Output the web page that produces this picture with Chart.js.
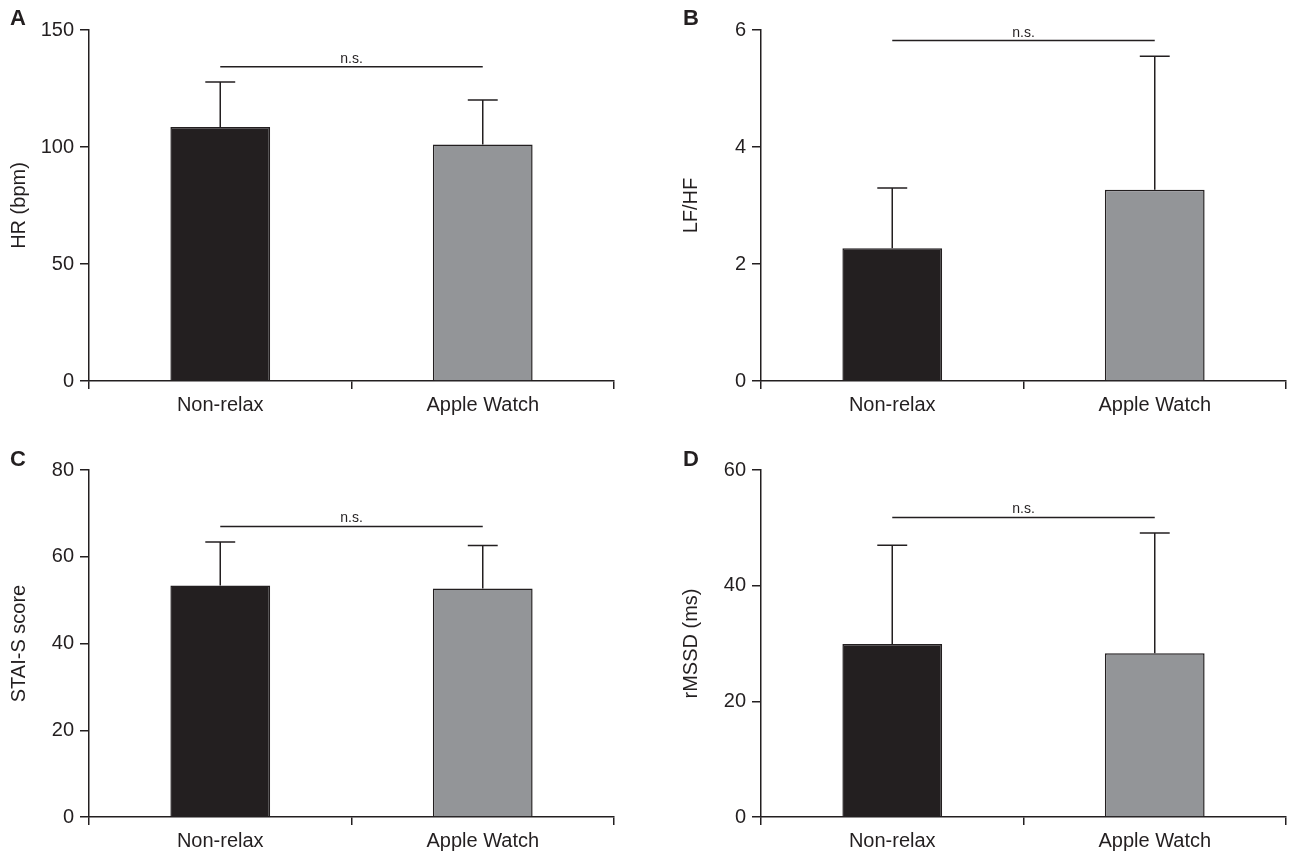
<!DOCTYPE html>
<html>
<head>
<meta charset="utf-8">
<script src="https://cdn.jsdelivr.net/npm/chart.js@4/dist/chart.umd.min.js"></script>
<style>
  body { margin: 0; background: #fff; }
  #page { position: relative; width: 1289px; height: 856px; background: #fff; overflow: hidden; }
  .panel { position: absolute; width: 617px; }
  .letter { position: absolute; font: bold 22px 'Liberation Sans', Arial, sans-serif; color: #231f20; }
</style>
</head>
<body>
<div id="page">
  <div class="panel" style="left:0;top:0;height:428px"><canvas id="chartA"></canvas></div>
  <div class="panel" style="left:672px;top:0;height:428px"><canvas id="chartB"></canvas></div>
  <div class="panel" style="left:0;top:440px;height:416px"><canvas id="chartC"></canvas></div>
  <div class="panel" style="left:672px;top:440px;height:416px"><canvas id="chartD"></canvas></div>
  <div class="letter" style="left:10px;top:5px">A</div>
  <div class="letter" style="left:683px;top:5px">B</div>
  <div class="letter" style="left:10px;top:446px">C</div>
  <div class="letter" style="left:683px;top:446px">D</div>
</div>
<script>
var categories = ["Non-relax", "Apple Watch"];

// means and SD
var hrMean = [108.5, 101.1];
var hrSd = [19.3, 19.0];
var lfhfMean = [2.27, 3.27];
var lfhfSd = [1.03, 2.28];
var staiMean = [53.4, 52.7];
var staiSd = [10.0, 9.9];
var rmssdMean = [29.9, 28.3];
var rmssdSd = [17.1, 20.8];

// height of the n.s. bracket, in axis units
var sigLevel = [134.3, 5.82, 67.0, 51.8];
var sigLabel = "n.s.";

var yTitles = ["HR (bpm)", "LF/HF", "STAI-S score", "rMSSD (ms)"];
var yMax = [150, 6, 80, 60];
var yStep = [50, 2, 20, 20];

var ink = '#231f20';
var barColors = ['#231f20', '#939598'];
var fontFamily = "'Liberation Sans', Arial, sans-serif";

Chart.defaults.font.family = fontFamily;
Chart.defaults.color = ink;

// error bars (mean + SD, upper only) and the n.s. bracket
var extrasPlugin = {
  id: 'extras',
  afterDatasetsDraw: function(chart) {
    var o = chart.options.plugins.extras;
    var meta = chart.getDatasetMeta(0);
    var y = chart.scales.y;
    var ctx = chart.ctx;
    ctx.save();
    ctx.strokeStyle = ink;
    ctx.lineWidth = 1.5;
    meta.data.forEach(function(bar, i) {
      var yBar = y.getPixelForValue(o.mean[i]);
      var yTop = y.getPixelForValue(o.mean[i] + o.sd[i]);
      var half = bar.width * 0.15;
      ctx.beginPath();
      ctx.moveTo(bar.x, yBar);
      ctx.lineTo(bar.x, yTop);
      ctx.moveTo(bar.x - half, yTop);
      ctx.lineTo(bar.x + half, yTop);
      ctx.stroke();
    });
    var ySig = y.getPixelForValue(o.sig);
    var x0 = meta.data[0].x, x1 = meta.data[1].x;
    ctx.beginPath();
    ctx.moveTo(x0, ySig);
    ctx.lineTo(x1, ySig);
    ctx.stroke();
    ctx.fillStyle = ink;
    ctx.font = '14px ' + fontFamily;
    ctx.textAlign = 'center';
    ctx.textBaseline = 'alphabetic';
    ctx.fillText(sigLabel, (x0 + x1) / 2, ySig - 4);
    ctx.restore();
  }
};

function makePanel(id, n, mean, sd, canvasHeight) {
  var plotBottom = n < 2 ? 381 : 377;
  return new Chart(document.getElementById(id), {
    type: 'bar',
    data: {
      labels: categories,
      datasets: [{
        data: mean,
        backgroundColor: barColors,
        borderColor: ink,
        borderWidth: 1.5,
        categoryPercentage: 1,
        barPercentage: 0.38
      }]
    },
    options: {
      responsive: true,
      maintainAspectRatio: false,
      animation: false,
      layout: { padding: { left: 0, top: 30, right: 3, bottom: 0 } },
      plugins: {
        legend: { display: false },
        tooltip: { enabled: false },
        extras: { mean: mean, sd: sd, sig: sigLevel[n] }
      },
      scales: {
        x: {
          offset: true,
          afterFit: function(s) { s.height = canvasHeight - plotBottom; },
          grid: { offset: true, drawOnChartArea: false, drawTicks: true, tickLength: 8, color: ink, lineWidth: 1.5 },
          border: { display: true, color: ink, width: 1.5 },
          ticks: { font: { size: 20 }, color: ink, padding: 4, maxRotation: 0 }
        },
        y: {
          min: 0,
          max: yMax[n],
          afterFit: function(s) { s.width = 89; },
          grid: { drawOnChartArea: false, drawTicks: true, tickLength: 9, color: ink, lineWidth: 1.5 },
          border: { display: true, color: ink, width: 1.5 },
          ticks: { stepSize: yStep[n], font: { size: 20 }, color: ink, padding: 6 },
          title: { display: true, text: yTitles[n], font: { size: 20 }, color: ink, padding: { top: 7, bottom: 0 } }
        }
      }
    },
    plugins: [extrasPlugin]
  });
}

makePanel('chartA', 0, hrMean, hrSd, 428);
makePanel('chartB', 1, lfhfMean, lfhfSd, 428);
makePanel('chartC', 2, staiMean, staiSd, 416);
makePanel('chartD', 3, rmssdMean, rmssdSd, 416);
</script>
</body>
</html>
